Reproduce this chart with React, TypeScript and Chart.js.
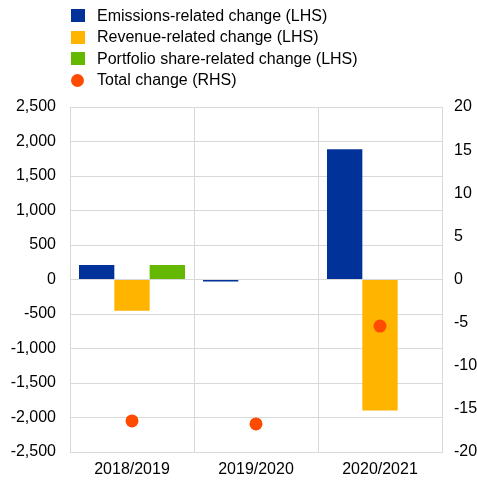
import React, { useEffect, useRef } from "react";
import { Chart, registerables } from "chart.js";

Chart.register(...registerables);

const categories = ["2018/2019", "2019/2020", "2020/2021"];
const emissionsChange = [210, -30, 1887];
const revenueChange = [-452, -6, -1900];
const portfolioShareChange = [210, 6, 0];
const totalChange = [-16.4, -16.75, -5.4];

const leftTicks = { min: -2500, max: 2500, step: 500 };
const rightTicks = { min: -20, max: 20, step: 5 };

const BLUE = "#003299";
const ORANGE = "#FFB400";
const GREEN = "#65B800";
const RED = "#FF4B00";
const GRID = "#d9d9d9";
const FONT = "'Liberation Sans', Arial, sans-serif";

const legendItems = [
  { label: "Emissions-related change (LHS)", color: BLUE, round: false },
  { label: "Revenue-related change (LHS)", color: ORANGE, round: false },
  { label: "Portfolio share-related change (LHS)", color: GREEN, round: false },
  { label: "Total change (RHS)", color: RED, round: true },
];

const CANVAS_W = 500;
const CANVAS_H = 481;

export default function App() {
  const ref = useRef<HTMLCanvasElement | null>(null);

  useEffect(() => {
    if (!ref.current) return;
    const chart = new Chart(ref.current, {
      type: "bar",
      data: {
        labels: categories,
        datasets: [
          {
            type: "line",
            label: "Total change (RHS)",
            data: totalChange,
            yAxisID: "y1",
            showLine: false,
            pointRadius: 6.5,
            pointBackgroundColor: RED,
            pointBorderColor: RED,
            pointBorderWidth: 0,
            backgroundColor: RED,
            borderColor: RED,
            order: 0,
          } as any,
          {
            label: "Emissions-related change (LHS)",
            data: emissionsChange,
            backgroundColor: BLUE,
            yAxisID: "y",
            order: 1,
          },
          {
            label: "Revenue-related change (LHS)",
            data: revenueChange,
            backgroundColor: ORANGE,
            yAxisID: "y",
            order: 1,
          },
          {
            label: "Portfolio share-related change (LHS)",
            data: portfolioShareChange,
            backgroundColor: GREEN,
            yAxisID: "y",
            order: 1,
          },
        ],
      },
      options: {
        responsive: false,
        maintainAspectRatio: false,
        animation: false,
        layout: { padding: { top: 107, left: 0, right: 0, bottom: 0 } },
        datasets: {
          bar: { categoryPercentage: 0.855, barPercentage: 1 },
        },
        plugins: {
          legend: { display: false },
          tooltip: { enabled: false },
        },
        scales: {
          x: {
            grid: { color: GRID, drawTicks: false, offset: true },
            border: { color: GRID },
            ticks: { color: "#000", font: { family: FONT, size: 16 }, padding: 8 },
            afterFit: (s: any) => {
              s.height = 29;
            },
          },
          y: {
            position: "left",
            min: leftTicks.min,
            max: leftTicks.max,
            grid: { color: GRID, drawTicks: false },
            border: { color: GRID },
            ticks: {
              stepSize: leftTicks.step,
              color: "#000",
              font: { family: FONT, size: 16 },
              padding: 14,
              callback: (v: any) => Number(v).toLocaleString("en-US"),
            },
            afterFit: (s: any) => {
              s.width = 70;
            },
          },
          y1: {
            position: "right",
            min: rightTicks.min,
            max: rightTicks.max,
            grid: { drawOnChartArea: false, drawTicks: false },
            border: { color: GRID },
            ticks: {
              stepSize: rightTicks.step,
              color: "#000",
              font: { family: FONT, size: 16 },
              padding: 12,
            },
            afterFit: (s: any) => {
              s.width = CANVAS_W - 442;
            },
          },
        },
      },
    });
    return () => chart.destroy();
  }, []);

  return (
    <div
      style={{
        position: "absolute",
        left: 0,
        top: 0,
        width: 477,
        height: 481,
        overflow: "hidden",
        background: "#fff",
        fontFamily: FONT,
      }}
    >
      <canvas
        ref={ref}
        width={CANVAS_W}
        height={CANVAS_H}
        style={{ position: "absolute", left: 0, top: 0, width: CANVAS_W, height: CANVAS_H }}
      />
      {legendItems.map((it, i) => (
        <div
          key={it.label}
          style={{
            position: "absolute",
            left: 71,
            top: 15.5 + i * 21.5 - 11,
            height: 22,
            display: "flex",
            alignItems: "center",
            fontSize: 16,
            color: "#000",
            whiteSpace: "nowrap",
          }}
        >
          <span
            style={{
              display: "inline-block",
              width: it.round ? 13 : 14,
              height: 13,
              background: it.color,
              borderRadius: it.round ? "50%" : 0,
              marginRight: it.round ? 13 : 12,
            }}
          />
          <span>{it.label}</span>
        </div>
      ))}
    </div>
  );
}
